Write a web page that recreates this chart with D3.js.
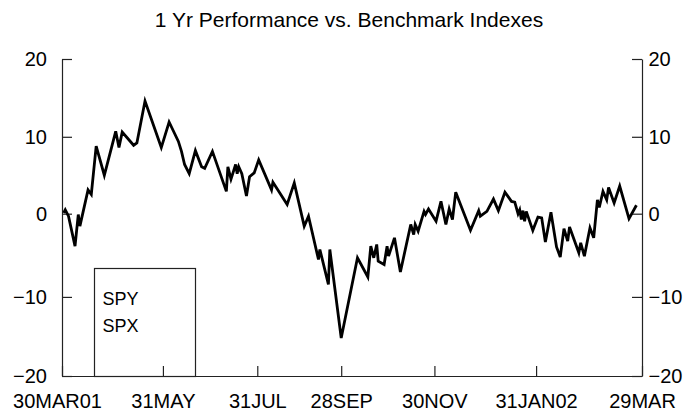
<!DOCTYPE html>
<html>
<head>
<meta charset="utf-8">
<script src="https://cdn.jsdelivr.net/npm/d3@7"></script>
<style>
  body { margin: 0; background: #fff; }
  svg { display: block; }
</style>
</head>
<body>
<svg id="chart" width="698" height="414"></svg>
<script>
// Relative performance of SPY against its benchmark, in percent
const dates = [
  "2001-03-31","2001-04-01","2001-04-03","2001-04-07","2001-04-09","2001-04-10","2001-04-15","2001-04-17",
  "2001-04-20","2001-04-25","2001-05-02","2001-05-04","2001-05-06","2001-05-13","2001-05-15","2001-05-20",
  "2001-05-30","2001-06-04","2001-06-10","2001-06-12","2001-06-14","2001-06-17","2001-06-21","2001-06-25",
  "2001-06-27","2001-07-02","2001-07-11","2001-07-12","2001-07-14","2001-07-17","2001-07-18","2001-07-19",
  "2001-07-21","2001-07-24","2001-07-26","2001-07-29","2001-08-01","2001-08-10","2001-08-11","2001-08-21",
  "2001-08-26","2001-09-02","2001-09-05","2001-09-12","2001-09-13","2001-09-19","2001-09-20","2001-09-28",
  "2001-10-09","2001-10-16","2001-10-18","2001-10-20","2001-10-22","2001-10-23","2001-10-27","2001-10-29",
  "2001-10-30","2001-11-03","2001-11-07","2001-11-14","2001-11-16","2001-11-17","2001-11-19","2001-11-23",
  "2001-11-24","2001-11-26","2001-12-01","2001-12-04","2001-12-07","2001-12-09","2001-12-11","2001-12-13",
  "2001-12-22","2001-12-27","2001-12-28","2002-01-01","2002-01-05","2002-01-08","2002-01-12","2002-01-16",
  "2002-01-18","2002-01-20","2002-01-21","2002-01-22","2002-01-23","2002-01-24","2002-01-25","2002-01-29",
  "2002-02-01","2002-02-03","2002-02-05","2002-02-08","2002-02-11","2002-02-13","2002-02-15","2002-02-17",
  "2002-02-18","2002-02-23","2002-02-24","2002-02-26","2002-03-01","2002-03-03","2002-03-05","2002-03-06",
  "2002-03-08","2002-03-10","2002-03-11","2002-03-14","2002-03-17","2002-03-22","2002-03-26"
];
const spy = [
  0.1, 0.5, -0.3, -3.9, -0.1, -1.5, 3.1, 2.5,
  8.8, 5.0, 10.7, 8.6, 10.6, 8.9, 9.2, 14.6,
  8.6, 11.9, 9.4, 8.1, 6.4, 5.2, 8.2, 6.1,
  5.9, 8.1, 2.9, 6.1, 4.5, 6.4, 5.2, 6.1,
  5.2, 2.3, 4.8, 5.3, 7.0, 3.1, 4.1, 1.2,
  4.0, -1.5, -0.3, -5.5, -4.3, -8.5, -4.3, -15.2,
  -5.3, -7.6, -3.9, -5.3, -3.7, -5.7, -6.1, -3.9,
  -5.1, -2.9, -7.0, -1.3, -2.5, -1.3, -2.1, 0.3,
  -0.1, 0.6, -0.9, 1.6, -1.3, 0.6, -0.7, 2.8,
  -2.0, 0.4, -0.3, 0.3, 1.9, 0.4, 2.8, 1.6,
  1.5, 0.0, 0.5, -0.7, 0.4, -0.9, 0.3, -2.0,
  -0.4, -0.5, -3.4, 0.2, -4.0, -5.2, -1.8, -3.3,
  -1.6, -4.7, -3.5, -5.1, -1.7, -2.9, 1.8, 0.8,
  2.9, 1.8, 3.4, 1.4, 3.6, -0.6, 1.1
];
const yTicks = [-20, -10, 0, 10, 20];
const xTickDates = ["2001-03-30","2001-05-31","2001-07-31","2001-09-28","2001-11-30","2002-01-31","2002-03-29"];
const xTickLabels = ["30MAR01","31MAY","31JUL","28SEP","30NOV","31JAN02","29MAR"];
const legendNames = ["SPY", "SPX"];
const title = "1 Yr Performance vs. Benchmark Indexes";

const FONT = '"Liberation Sans", Arial, Helvetica, sans-serif';
const plot = { left: 62, right: 642, top: 59, bottom: 376 };
const parse = d3.timeParse("%Y-%m-%d");

// The month stops sit at uneven distances along the axis, so x is piecewise
const xStops = [0, 0.174, 0.3367, 0.4814, 0.6421, 0.8174, 1];
const x = d3.scaleTime()
  .domain(xTickDates.map(parse))
  .range(xStops.map(f => plot.left + f * (plot.right - plot.left)));

const yStops = [0, 0.2495, 0.512, 0.7546, 1];
const y = d3.scaleLinear()
  .domain(yTicks)
  .range(yStops.map(f => plot.bottom - f * (plot.bottom - plot.top)));

const series = dates.map((d, i) => ({ date: parse(d), v: spy[i] }));

const svg = d3.select("#chart");
svg.append("rect").attr("width", 698).attr("height", 414).attr("fill", "#fff");

svg.append("text")
  .attr("x", 349).attr("y", 27)
  .attr("text-anchor", "middle")
  .attr("font-family", FONT).attr("font-size", 21)
  .text(title);

function styleAxis(g) {
  g.attr("font-family", FONT).attr("font-size", 20);
  g.selectAll(".domain, .tick line").attr("stroke", "#222").attr("stroke-width", 1.2);
  g.selectAll("text").attr("fill", "#000");
}

svg.append("g")
  .attr("transform", `translate(${plot.left},0)`)
  .call(d3.axisLeft(y).tickValues(yTicks).tickFormat(d3.format("d"))
    .tickSizeInner(-10).tickSizeOuter(0).tickPadding(15))
  .call(styleAxis);

svg.append("g")
  .attr("transform", `translate(${plot.right},0)`)
  .call(d3.axisRight(y).tickValues(yTicks).tickFormat(d3.format("d"))
    .tickSizeInner(-10).tickSizeOuter(0).tickPadding(6.5))
  .call(styleAxis);

const xAxisG = svg.append("g")
  .attr("transform", `translate(0,${plot.bottom})`)
  .call(d3.axisBottom(x).tickValues(xTickDates.map(parse)).tickFormat((d, i) => xTickLabels[i])
    .tickSizeInner(-10).tickSizeOuter(0).tickPadding(17.5))
  .call(styleAxis);
// the first date label is nudged left, away from the y-axis labels
xAxisG.selectAll(".tick text").filter((d, i) => i === 0).attr("dx", -5);

// Performance line
svg.append("path")
  .datum(series)
  .attr("fill", "none")
  .attr("stroke", "#000")
  .attr("stroke-width", 2.8)
  .attr("stroke-linejoin", "miter")
  .attr("d", d3.line().x(d => x(d.date)).y(d => y(d.v)));

// Legend box resting on the bottom axis
const legend = svg.append("g").attr("transform", "translate(94.5,268.5)");
legend.append("rect")
  .attr("width", 101).attr("height", plot.bottom + 0.5 - 268.5)
  .attr("fill", "none").attr("stroke", "#222").attr("stroke-width", 1.2);
legend.selectAll("text")
  .data(legendNames)
  .join("text")
  .attr("x", 8).attr("y", (d, i) => 36.5 + i * 27)
  .attr("font-family", FONT).attr("font-size", 18)
  .text(d => d);
</script>
</body>
</html>
